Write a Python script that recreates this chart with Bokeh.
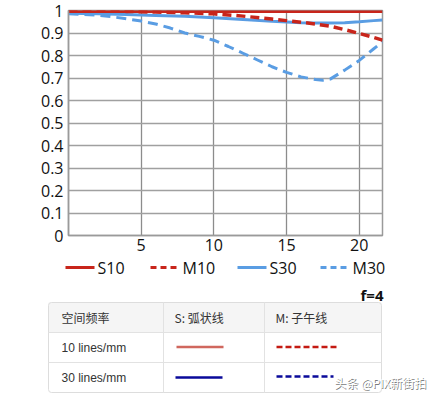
from bokeh.plotting import figure
from bokeh.layouts import column
from bokeh.models import Range1d, FixedTicker
from bokeh.core.properties import value
from bokeh.embed import file_html
from bokeh.resources import INLINE

# ---- data ----
x_s10 = [0, 5, 10, 15, 20, 21.6]
y_s10 = [0.997, 0.997, 0.997, 0.997, 0.997, 0.997]

x_m10 = [0, 2, 4, 6, 8, 10, 12, 14, 15, 16, 17, 18, 19, 20, 21, 21.6]
y_m10 = [1.0, 0.998, 0.996, 0.993, 0.99, 0.985, 0.975, 0.962, 0.955, 0.948, 0.94, 0.93, 0.915, 0.898, 0.88, 0.868]

x_s30 = [0, 2, 4, 6, 8, 10, 12, 14, 16, 17, 18, 19, 20, 21, 21.6]
y_s30 = [0.988, 0.986, 0.982, 0.978, 0.974, 0.968, 0.96, 0.952, 0.946, 0.944, 0.944, 0.946, 0.95, 0.955, 0.958]

x_m30 = [0, 1, 2, 3, 4, 5, 6, 7, 8, 9, 10, 11, 12, 13, 14, 15, 16, 17, 17.5, 18, 19, 20, 21, 21.6]
y_m30 = [0.985, 0.983, 0.979, 0.972, 0.963, 0.953, 0.94, 0.922, 0.9, 0.885, 0.868, 0.84, 0.81, 0.78, 0.75,
         0.725, 0.705, 0.693, 0.69, 0.695, 0.735, 0.778, 0.83, 0.86]

x_ticks = [5, 10, 15, 20]
y_ticks = [0, 0.1, 0.2, 0.3, 0.4, 0.5, 0.6, 0.7, 0.8, 0.9, 1.0]
y_tick_labels = ["0", "0.1", "0.2", "0.3", "0.4", "0.5", "0.6", "0.7", "0.8", "0.9", "1"]

legend_labels = ["S10", "M10", "S30", "M30"]
table_header = ["空间频率", "S: 弧状线", "M: 子午线"]
table_rows = ["10 lines/mm", "30 lines/mm"]
aperture = "f=4"
watermark = "头条 @PIX新街拍"

RED = "#c8251b"
BLUE = "#5a9de3"
FONT = "Open Sans"
CJK = "Noto Sans CJK SC"

# ---- chart ----
W = 430
HA = 258
p = figure(width=W, height=HA, output_backend="svg", toolbar_location=None,
           x_range=Range1d(0, 21.6), y_range=Range1d(0, 1),
           min_border_left=68, min_border_right=48, min_border_top=10, min_border_bottom=23)
p.frame_align = False
p.background_fill_color = "white"
p.border_fill_color = "white"
p.outline_line_color = "#9a9a9a"
p.outline_line_width = 1.5

p.xaxis.ticker = FixedTicker(ticks=x_ticks)
p.yaxis.ticker = FixedTicker(ticks=y_ticks)
p.yaxis.major_label_overrides = {t: l for t, l in zip(y_ticks, y_tick_labels)}
for ax in (p.xaxis[0], p.yaxis[0]):
    ax.major_tick_in = 0
    ax.major_tick_out = 0
    ax.minor_tick_in = 0
    ax.minor_tick_out = 0
    ax.axis_line_color = "#9a9a9a"
    ax.axis_line_width = 1.5
    ax.major_label_text_font = FONT
    ax.major_label_text_font_size = "16px"
    ax.major_label_text_color = "#111111"
p.yaxis.major_label_standoff = 5
p.xaxis.major_label_standoff = 3

p.xgrid.ticker = FixedTicker(ticks=x_ticks)
p.ygrid.ticker = FixedTicker(ticks=y_ticks)
p.xgrid.grid_line_color = "#8c8c8c"
p.ygrid.grid_line_color = "#a0a0a0"
p.xgrid.grid_line_width = 1.3
p.ygrid.grid_line_width = 1.3

p.line(x_s30, y_s30, line_color=BLUE, line_width=3)
p.line(x_m30, y_m30, line_color=BLUE, line_width=3, line_dash="10 6")
p.line(x_m10, y_m10, line_color=RED, line_width=3.5, line_dash="9 5")
p.line(x_s10, y_s10, line_color=RED, line_width=3.5)

# ---- lower panel: legend, f-number, table ----
HB = 397 - HA
q = figure(width=W, height=HB, output_backend="svg", toolbar_location=None,
           x_range=Range1d(0, W), y_range=Range1d(397, HA),
           min_border_left=0, min_border_right=0, min_border_top=0, min_border_bottom=0)
q.frame_align = False
q.axis.visible = False
q.grid.visible = False
q.outline_line_color = None
q.background_fill_color = "white"
q.border_fill_color = "white"

# legend
leg_x0 = [65, 150, 237, 320]
leg_col = [RED, RED, BLUE, BLUE]
leg_dash = ["solid", "6 4", "solid", "6 4"]
for x0, c, d, lab in zip(leg_x0, leg_col, leg_dash, legend_labels):
    q.line([x0, x0 + 29], [267, 267], line_color=c, line_width=3, line_dash=d)
    q.text([x0 + 32], [267], text=[lab], text_font=value(FONT), text_font_size="16px",
           text_baseline="middle", text_color="#111111")

q.text([383], [294], text=[aperture], text_font=value(FONT), text_font_size="15px",
       text_align="right", text_baseline="middle", text_color="#111111", text_font_style="bold")

# table
q.rect([214.5], [317], width=333, height=30, fill_color="#f5f5f5", line_color=None)
q.rect([214.5], [347], width=333, height=90, fill_color=None, line_color="#dddddd", line_width=1,
       border_radius=3)
q.segment([48, 48], [332, 362], [381, 381], [332, 362], line_color="#e2e2e2", line_width=1)
q.segment([163, 264], [302, 302], [163, 264], [392, 392], line_color="#e2e2e2", line_width=1)

col_x = [61, 174, 275]
q.text(col_x, [317, 317, 317], text=table_header, text_font=value(CJK),
       text_font_size="12px", text_baseline="middle", text_color="#333333")
q.text([61, 61], [347, 377], text=table_rows, text_font=value("Liberation Sans"),
       text_font_size="12px", text_baseline="middle", text_color="#333333")

q.line([176, 223], [346.5, 346.5], line_color="#d0675e", line_width=2.5)
q.line([276, 338], [346.5, 346.5], line_color="#c41a12", line_width=2.5, line_dash="6 3")
q.line([175, 222], [377, 377], line_color="#0a0a9a", line_width=2.5)
q.line([276, 333], [376, 376], line_color="#0a0a9a", line_width=2.5, line_dash="6 3")

# watermark
q.text([334.8], [382.8], text=[watermark], text_font=value(CJK), text_font_size="12px",
       text_baseline="middle", text_color="#555555", text_alpha=0.8)
q.text([334], [382], text=[watermark], text_font=value(CJK), text_font_size="12px",
       text_baseline="middle", text_color="#ffffff")

layout = column(p, q, spacing=0)

open("out.html", "w").write(file_html(layout, INLINE))
